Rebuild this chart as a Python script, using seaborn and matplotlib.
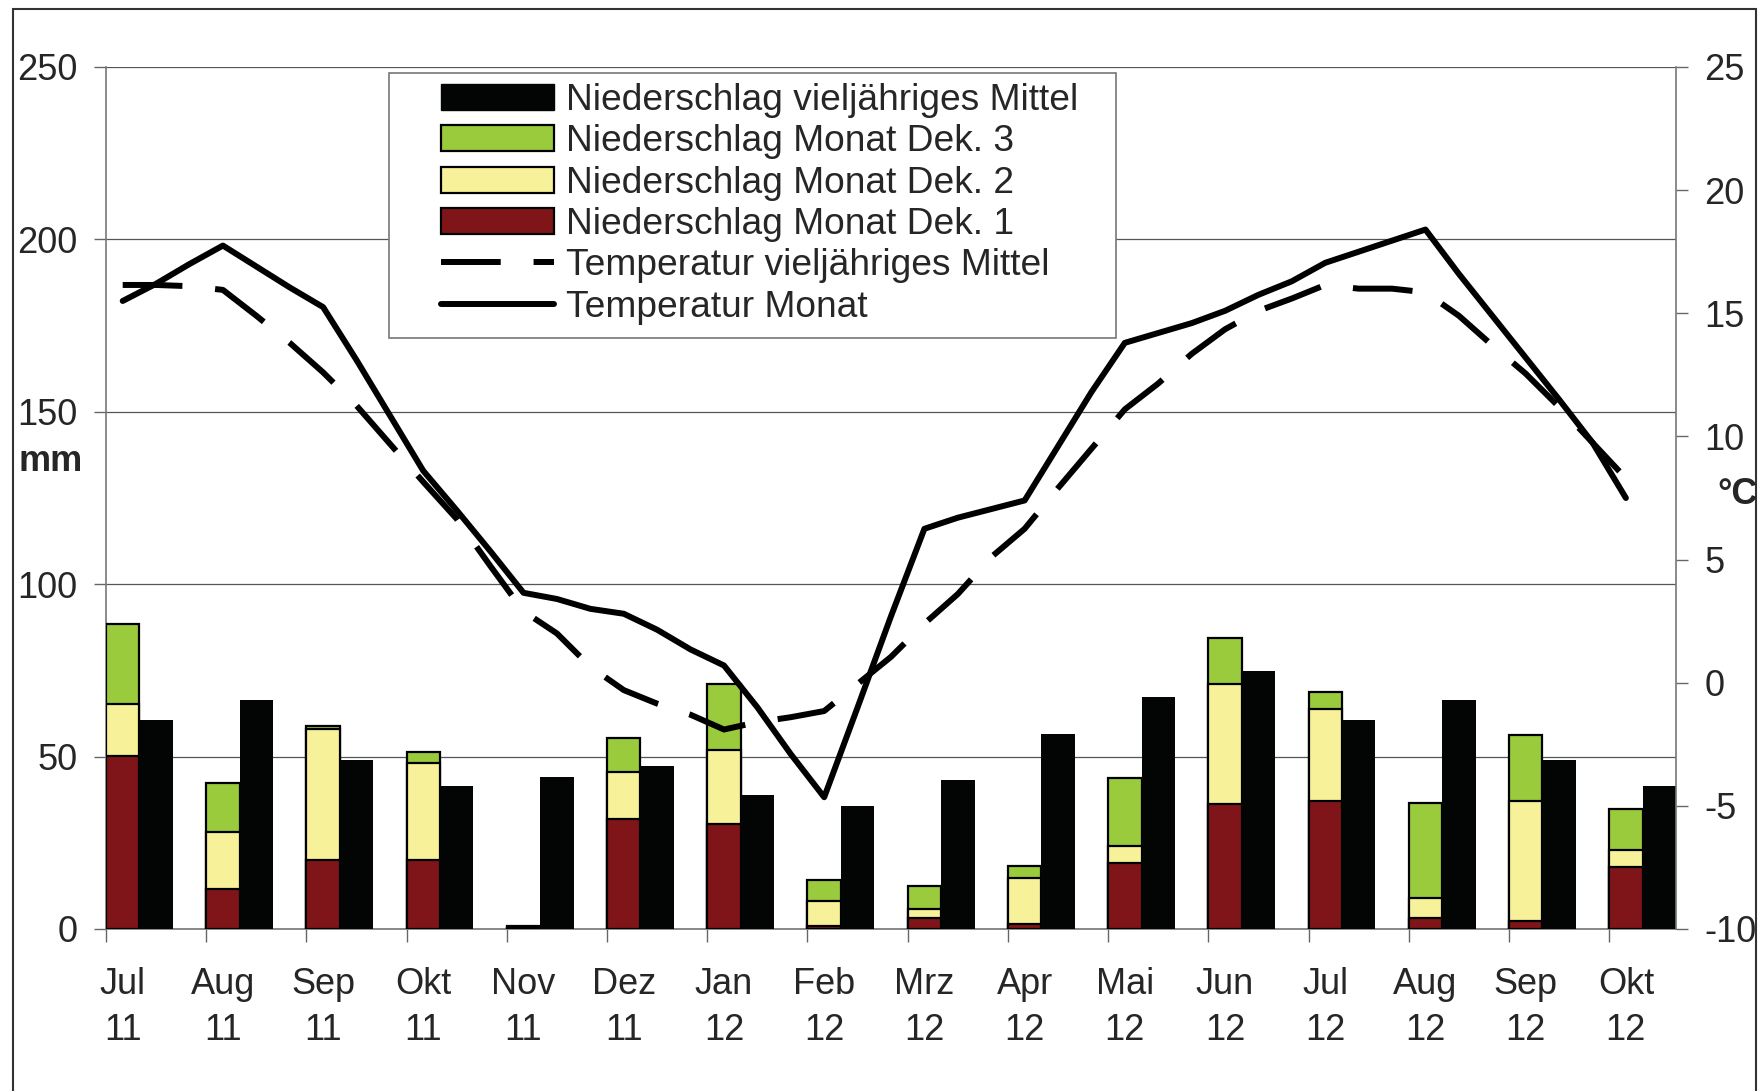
import numpy as np
import matplotlib
matplotlib.use('Agg')
import matplotlib.pyplot as plt
from matplotlib.patches import Patch, Rectangle
from matplotlib.lines import Line2D
import seaborn as sns


# ─────────────────────────────────────────────
# DATEN
# ─────────────────────────────────────────────
MONTHS = ['Jul', 'Aug', 'Sep', 'Okt', 'Nov', 'Dez', 'Jan', 'Feb',
          'Mrz', 'Apr', 'Mai', 'Jun', 'Jul', 'Aug', 'Sep', 'Okt']
YEARS  = ['11'] * 6 + ['12'] * 10

# Niederschlag je Dekade (mm)
DEK1 = [50.3, 11.5, 20.0, 20.0, 0.4, 32.0, 30.5, 1.0,
        3.2, 1.5, 19.0, 36.3, 37.2, 3.2, 2.2, 18.0]
DEK2 = [15.0, 16.7, 38.0, 28.0, 0.0, 13.5, 21.5, 7.2,
        2.5, 13.2, 5.0, 34.9, 26.5, 5.8, 35.0, 5.0]
DEK3 = [23.3, 14.0, 0.8, 3.3, 0.4, 10.0, 19.2, 6.0,
        6.8, 3.5, 19.8, 13.3, 5.1, 27.5, 19.1, 11.8]
NS_MITTEL = [60.5, 66.3, 49.0, 41.5, 44.0, 47.3, 39.0, 35.8,
             43.2, 56.5, 67.2, 74.7, 60.7, 66.3, 49.0, 41.5]

# Temperatur je Dekade (°C), Jul 11 Dek.1 ... Okt 12 Dek.1
TEMP_MONAT = [15.5, 16.2, 17.0, 17.75, 16.9, 16.05, 15.25, 13.1, 10.85,
              8.6, 7.0, 5.35, 3.65, 3.4, 3.0, 2.8, 2.15, 1.35,
              0.7, -1.0, -2.9, -4.65, -1.0, 2.7, 6.25, 6.7, 7.05,
              7.4, 9.6, 11.8, 13.8, 14.2, 14.6, 15.1, 15.75, 16.3,
              17.05, 17.5, 17.95, 18.4, 16.6, 14.9, 13.2, 11.5, 9.75, 7.5]
TEMP_MITTEL = [16.15, 16.15, 16.1, 15.95, 14.9, 13.8, 12.6, 11.25, 9.7,
               8.15, 6.65, 4.75, 2.9, 2.0, 0.65, -0.3, -0.85, -1.3,
               -1.9, -1.6, -1.4, -1.15, -0.05, 1.05, 2.4, 3.6, 5.1,
               6.25, 7.9, 9.5, 11.1, 12.15, 13.35, 14.35, 15.1, 15.6,
               16.15, 16.0, 16.0, 15.85, 14.9, 13.7, 12.55, 11.2, 9.75, 8.3]

C_DEK1   = '#7f1518'
C_DEK2   = '#f7f199'
C_DEK3   = '#9acb3c'
C_MITTEL = '#030504'
FS       = 26


# ─────────────────────────────────────────────
# PLOT
# ─────────────────────────────────────────────
sns.set_theme(style='white')
plt.rcParams['font.family'] = ['Liberation Sans', 'DejaVu Sans']

W, H = 1765, 1091
fig = plt.figure(figsize=(W / 100, H / 100), dpi=100)
ax = fig.add_axes([106 / W, (H - 929) / H, 1570 / W, 862 / H])

n = len(MONTHS)
pos = np.arange(n)
d1 = np.array(DEK1)
d12 = d1 + np.array(DEK2)
d123 = d12 + np.array(DEK3)

# gestapelte Säulen: Summen übereinander zeichnen
for vals, col in [(d123, C_DEK3), (d12, C_DEK2), (d1, C_DEK1)]:
    sns.barplot(x=pos + 1 / 6, y=vals, native_scale=True, width=1 / 3,
                color=col, saturation=1, edgecolor='black', linewidth=1.6,
                errorbar=None, ax=ax, zorder=3)
sns.barplot(x=pos + 0.5, y=NS_MITTEL, native_scale=True, width=1 / 3,
            color=C_MITTEL, saturation=1, linewidth=0,
            errorbar=None, ax=ax, zorder=3)

ax.set_xlim(0, n - 1 / 3)
ax.set_ylim(0, 250)
ax.set_yticks(range(0, 251, 50))
ax.set_yticklabels([str(v) for v in range(0, 251, 50)], fontsize=FS)
ax.yaxis.grid(True, color='#555555', lw=0.9, zorder=0)
ax.xaxis.grid(False)
ax.set_xticks(pos + 1 / 6)
ax.set_xticklabels([f'{m}\n{y}' for m, y in zip(MONTHS, YEARS)],
                   fontsize=FS, linespacing=1.42)
ax.set_xticks(pos, minor=True)
ax.tick_params(axis='x', which='major', length=0, pad=27)
ax.tick_params(axis='x', which='minor', length=9, width=1, color='#666666',
               direction='out', bottom=True)
ax.tick_params(axis='y', length=8.5, width=1, color='#666666', pad=12,
               direction='out', left=True)
ax.set_xlabel('')
ax.set_ylabel('')
for s in ['left', 'bottom']:
    ax.spines[s].set_color('#777777')
    ax.spines[s].set_linewidth(1.2)
ax.spines['top'].set_visible(False)
ax.spines['right'].set_visible(False)

# Temperatur auf Sekundärachse
ax2 = ax.twinx()
tx = np.arange(len(TEMP_MONAT)) / 3 + 1 / 6
sns.lineplot(x=tx, y=TEMP_MITTEL, color='black', lw=4.3, ax=ax2)
ax2.lines[-1].set_dashes([10, 5.5])
ax2.lines[-1].set_dash_capstyle('butt')
sns.lineplot(x=tx, y=TEMP_MONAT, color='black', lw=4.3, ax=ax2)
ax2.lines[-1].set_solid_capstyle('round')
ax2.set_ylim(-10, 25)
ax2.set_yticks(range(-10, 26, 5))
ax2.set_yticklabels([str(v) for v in range(-10, 26, 5)], fontsize=FS)
ax2.tick_params(axis='y', length=8.5, width=1, color='#666666', pad=12,
                direction='out', right=True)
ax2.set_xlim(0, n - 1 / 3)
ax2.set_ylabel('')
for s in ['left', 'top', 'bottom']:
    ax2.spines[s].set_visible(False)
ax2.spines['right'].set_color('#777777')
ax2.spines['right'].set_linewidth(1.2)

# Legende mit eigenem Rahmen (Excel-artiger Innenabstand)
frame = Rectangle((389 / W, 1 - 338 / H), (1116 - 389) / W, (338 - 73) / H,
                  transform=fig.transFigure, facecolor='white',
                  edgecolor='#777777', linewidth=1.2, zorder=4, clip_on=False)
ax2.add_patch(frame)

handles = [
    Patch(facecolor=C_MITTEL, edgecolor=C_MITTEL),
    Patch(facecolor=C_DEK3, edgecolor='black', linewidth=1.6),
    Patch(facecolor=C_DEK2, edgecolor='black', linewidth=1.6),
    Patch(facecolor=C_DEK1, edgecolor='black', linewidth=1.6),
    Line2D([], [], color='black', lw=4.3, dashes=[10, 5.5]),
    Line2D([], [], color='black', lw=4.3, solid_capstyle='round'),
]
labels = ['Niederschlag vieljähriges Mittel', 'Niederschlag Monat Dek. 3',
          'Niederschlag Monat Dek. 2', 'Niederschlag Monat Dek. 1',
          'Temperatur vieljähriges Mittel', 'Temperatur Monat']
leg = ax2.legend(handles, labels, loc='upper left',
                 bbox_to_anchor=(441 / W, 1 - 83 / H),
                 bbox_transform=fig.transFigure, borderaxespad=0,
                 fontsize=26.7, frameon=False,
                 handlelength=3.06, handletextpad=0.3, labelspacing=0.17,
                 borderpad=0)
leg.set_zorder(5)

fig.text(51 / W, 1 - 461 / H, 'mm', fontsize=FS, fontweight='bold',
         ha='center', va='center')
fig.text(1738 / W, 1 - 495 / H, '°C', fontsize=FS, fontweight='bold',
         ha='center', va='center')

# Rahmen um die Grafik
fig.patches.append(Rectangle((13 / W, -0.05), (1756 - 13) / W, 1.05 - 9 / H,
                             transform=fig.transFigure, fill=False,
                             edgecolor='#333333', linewidth=1.5))

fig.savefig('out.png', dpi=100)
plt.close(fig)
